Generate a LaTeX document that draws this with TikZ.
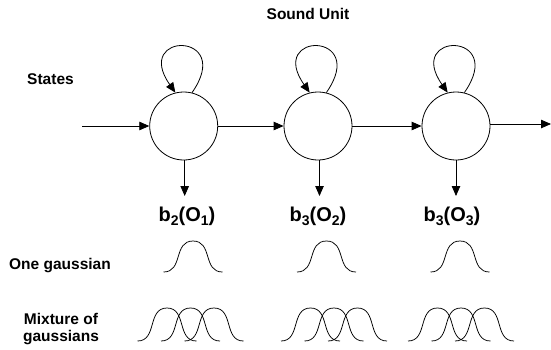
\documentclass[tikz,border=0pt]{standalone}
\usepackage{fontspec}
\setmainfont{Liberation Sans}
\usetikzlibrary{arrows.meta}
\newcommand\sbs[1]{\raisebox{-4pt}{\fontsize{14}{14}\selectfont #1}}
% bump: centre x, bottom y, height ; half-width 29.5
\newcommand\gaussbump[3]{\draw[curve] ({#1-29.5},#2) .. controls ({#1-9.5},#2) and ({#1-20},{#2-#3}) .. ({#1},{#2-#3})
   .. controls ({#1+20},{#2-#3}) and ({#1+9.5},#2) .. ({#1+29.5},#2);}
\begin{document}
\begin{tikzpicture}[x=1pt,y=-1pt,line width=0.8pt,
  state/.style={draw,circle,minimum size=68pt,inner sep=0pt},
  tip/.style={-{Triangle[length=10pt,width=8.5pt]}},
  curve/.style={line width=0.75pt},
  lbl/.style={font=\bfseries\fontsize{15.5}{17}\selectfont,inner sep=0pt},
  obs/.style={font=\bfseries\fontsize{20}{22}\selectfont,inner sep=0pt,anchor=base}]
\useasboundingbox (0,0) rectangle (551,349);
% states
\node[state] (s1) at (183.7,126) {};
\node[state] (s2) at (318,126) {};
\node[state] (s3) at (456,126) {};
\coordinate (in) at (82,126);
\coordinate (out) at (551,124);
\draw[tip] (in) -- (s1);
\draw[tip] (s1) -- (s2);
\draw[tip] (s2) -- (s3);
\draw[tip] (s3.east |- out) -- (out);
% self loops
\foreach \s in {s1,s2,s3}{
  \draw[tip] (\s.76) .. controls +(43,-61.4) and +(-43,-61.4) .. (\s.104);
}
% emission arrows
\coordinate (o1) at (184.7,196);
\coordinate (o2) at (319.5,196);
\coordinate (o3) at (456,196);
\draw[tip] (s1.south -| o1) -- (o1);
\draw[tip] (s2.south -| o2) -- (o2);
\draw[tip] (s3) -- (o3);
% labels
\node[lbl,anchor=base] (title) at (308,19) {Sound Unit};
\node[lbl,anchor=base] (states) at (50.5,84) {States};
\node[obs] (b1) at (187,221.7) {b\sbs{2}(O\sbs{1})};
\node[obs] (b2) at (318,221.7) {b\sbs{3}(O\sbs{2})};
\node[obs] (b3) at (452,221.7) {b\sbs{3}(O\sbs{3})};
\node[lbl,anchor=base] (one) at (60,269) {One gaussian};
\node[lbl,align=center] (mix) at (61,329.5) {Mixture of\\gaussians};
% single gaussians
\foreach \c in {193,326.5,460}{\gaussbump{\c}{272}{31}}
% mixtures
\foreach \c in {190.5,334,461}{
  \foreach \d in {-23.5,0,23.5}{\gaussbump{\c+\d}{341}{33}}
}
\end{tikzpicture}
\end{document}
